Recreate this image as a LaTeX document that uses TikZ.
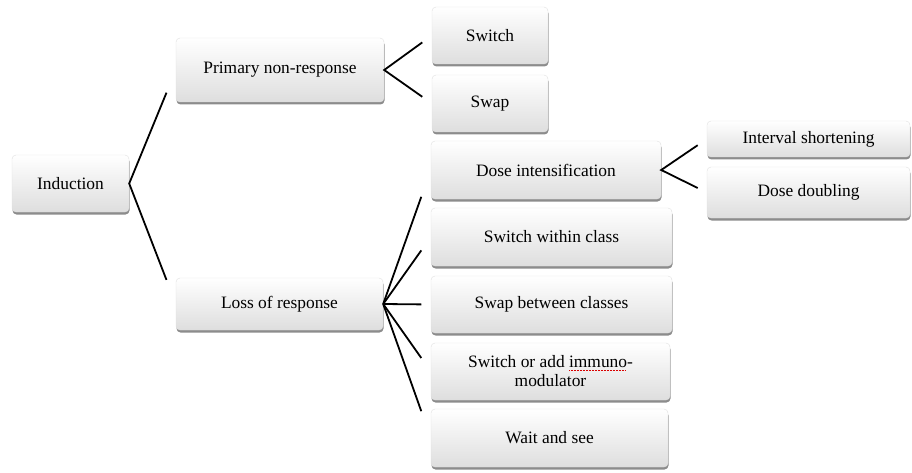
\documentclass[tikz,border=0pt]{standalone}
\usepackage{fontspec}
\setmainfont{Liberation Serif}
\usetikzlibrary{calc,shadows}
\newcommand\spellwave[1]{\sbox0{#1}\rlap{\usebox0}\raisebox{-3pt}{\color{red!85!black}\leaders\hbox to 1.5pt{\hss\rule{0.8pt}{0.7pt}\hss}\hskip\wd0}}
\begin{document}
\begin{tikzpicture}[x=1pt, y=-1pt,
  box/.style={rounded corners=4pt, draw=black!12, top color=white, bottom color=black!13,
    drop shadow={shadow xshift=0.5pt, shadow yshift=-2.5pt, opacity=.6, fill=black!75},
    font=\fontsize{17.4}{19}\selectfont, align=center, inner sep=0pt},
  link/.style={line width=1.8pt}]
\useasboundingbox (0,0) rectangle (912,473);
\node[box, minimum width=117, minimum height=57](Ind) at (70.5,183.5) {Induction};
\node[box, minimum width=208, minimum height=64](PNR) at (280,70) {Primary non-response};
\node[box, minimum width=207, minimum height=52](LOR) at (279.5,304) {Loss of response};
\node[box, minimum width=116, minimum height=57](Sw) at (490,35.5) {Switch};
\node[box, minimum width=116, minimum height=57](Sp) at (490,103.5) {Swap};
\node[box, minimum width=230, minimum height=58](DI) at (546,170) {Dose intensification};
\node[box, minimum width=241, minimum height=58](SWC) at (551.5,237) {Switch within class};
\node[box, minimum width=241, minimum height=57](SBC) at (551.5,304.5) {Swap between classes};
\node[box, minimum width=239, minimum height=57](SAI) at (550.5,371.5) {Switch or add \spellwave{immuno}-\\modulator};
\node[box, minimum width=237, minimum height=58](WS) at (549.5,438) {Wait and see};
\node[box, minimum width=203, minimum height=36](IS) at (808.5,139) {Interval shortening};
\node[box, minimum width=203, minimum height=51](DD) at (808.5,192.5) {Dose doubling};
% branches stop short of the boxes they point at
\draw[link] ($(Ind.east)!.8!(PNR.west)$) -- (Ind.east) -- ($(Ind.east)!.8!(LOR.west)$);
\draw[link] ($(PNR.east)!.8!(Sw.west)$) -- (PNR.east) -- ($(PNR.east)!.8!(Sp.west)$);
\draw[link] ($(DI.east)!.8!(IS.west)$) -- (DI.east) -- ($(DI.east)!.8!(DD.west)$);
\foreach \t in {DI,SWC,SBC,SAI,WS}
  \draw[link] (LOR.east) -- ($(LOR.east)!.8!(\t.west)$);
\end{tikzpicture}
\end{document}
